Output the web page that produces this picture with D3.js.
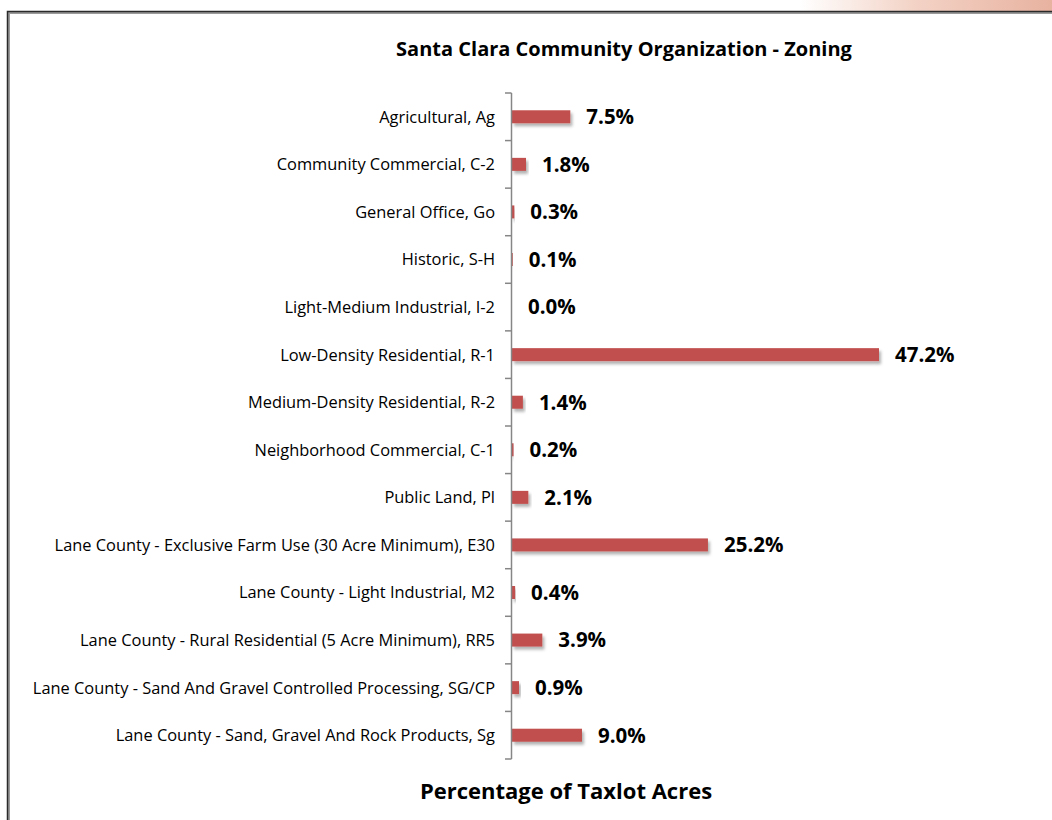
<!DOCTYPE html>
<html>
<head>
<meta charset="utf-8">
<script src="https://cdn.jsdelivr.net/npm/d3@7"></script>
<style>
  body { margin: 0; background: #fff; }
  svg { display: block; font-family: "Open Sans", Lato, sans-serif; }
</style>
</head>
<body>
<script>
// zoning categories and share of taxlot acres (%)
var categories = [
  "Agricultural, Ag",
  "Community Commercial, C-2",
  "General Office, Go",
  "Historic, S-H",
  "Light-Medium Industrial, I-2",
  "Low-Density Residential, R-1",
  "Medium-Density Residential, R-2",
  "Neighborhood Commercial, C-1",
  "Public Land, Pl",
  "Lane County - Exclusive Farm Use (30 Acre Minimum), E30",
  "Lane County - Light Industrial, M2",
  "Lane County - Rural Residential (5 Acre Minimum), RR5",
  "Lane County - Sand And Gravel Controlled Processing, SG/CP",
  "Lane County - Sand, Gravel And Rock Products, Sg"
];
var percents = [7.5, 1.8, 0.3, 0.1, 0.0, 47.2, 1.4, 0.2, 2.1, 25.2, 0.4, 3.9, 0.9, 9.0];

var data = categories.map(function(c, i) { return {cat: c, val: percents[i]}; });

var W = 1052, H = 820;
var margin = {top: 93, left: 512};
var plotH = 666;

var svg = d3.select("body").append("svg")
    .attr("width", W)
    .attr("height", H);

var defs = svg.append("defs");
var grad = defs.append("linearGradient").attr("id", "strip")
    .attr("x1", "0").attr("x2", "1").attr("y1", "0").attr("y2", "0");
grad.append("stop").attr("offset", "0").attr("stop-color", "#ffffff");
grad.append("stop").attr("offset", "0.45").attr("stop-color", "#f3d3c6");
grad.append("stop").attr("offset", "1").attr("stop-color", "#e8b2a0");

var shadow = defs.append("filter").attr("id", "shadow")
    .attr("x", "-10%").attr("y", "-50%").attr("width", "130%").attr("height", "250%");
shadow.append("feDropShadow")
    .attr("dx", 2).attr("dy", 3).attr("stdDeviation", 1.8)
    .attr("flood-color", "#000").attr("flood-opacity", 0.3);

// peach strip along top right and frame
svg.append("rect").attr("x", 800).attr("y", 0).attr("width", W - 800).attr("height", 11)
    .attr("fill", "url(#strip)");
svg.append("path").attr("d", "M8.5," + H + "V12.5H" + W)
    .attr("fill", "none").attr("stroke", "#9a9a9a").attr("stroke-width", 3);
svg.append("path").attr("d", "M7.5," + H + "V11.5H" + W)
    .attr("fill", "none").attr("stroke", "#2a2a2a").attr("stroke-width", 1.5);

var g = svg.append("g")
    .attr("transform", "translate(" + margin.left + "," + margin.top + ")");

var x = d3.scaleLinear()
    .domain([0, 47.2])
    .range([0, 367]);
var y = d3.scaleBand()
    .domain(categories)
    .range([0, plotH]);

var barH = 13;

g.selectAll(".bar")
    .data(data)
  .enter().append("rect")
    .attr("class", "bar")
    .attr("x", 0)
    .attr("y", function(d) { return y(d.cat) + y.bandwidth() / 2 - barH / 2; })
    .attr("width", function(d) { return x(d.val); })
    .attr("height", barH)
    .attr("fill", "#c0504d")
    .attr("filter", "url(#shadow)");

g.selectAll(".lbl")
    .data(data)
  .enter().append("text")
    .attr("class", "lbl")
    .attr("x", function(d) { return x(d.val) + 16; })
    .attr("y", function(d) { return y(d.cat) + y.bandwidth() / 2; })
    .attr("dy", "0.36em")
    .attr("font-size", 20.5)
    .attr("font-weight", "bold")
    .attr("fill", "#000")
    .text(function(d) { return d.val.toFixed(1) + "%"; });

// category axis with ticks on band boundaries
var axis = g.append("g").attr("class", "axis");
axis.append("line")
    .attr("x1", -0.5).attr("x2", -0.5)
    .attr("y1", 0).attr("y2", plotH)
    .attr("stroke", "#868686").attr("stroke-width", 1.5);
axis.selectAll(".tick")
    .data(d3.range(categories.length + 1))
  .enter().append("line")
    .attr("x1", -7).attr("x2", -0.5)
    .attr("y1", function(i) { return i * y.step(); })
    .attr("y2", function(i) { return i * y.step(); })
    .attr("stroke", "#868686").attr("stroke-width", 1.5);
axis.selectAll(".cat")
    .data(categories)
  .enter().append("text")
    .attr("x", -17)
    .attr("y", function(d) { return y(d) + y.bandwidth() / 2; })
    .attr("dy", "0.36em")
    .attr("text-anchor", "end")
    .attr("font-size", 16.4)
    .attr("fill", "#000")
    .text(function(d) { return d; });

svg.append("text")
    .attr("x", 624).attr("y", 56)
    .attr("text-anchor", "middle")
    .attr("font-size", 20)
    .attr("font-weight", "bold")
    .text("Santa Clara Community Organization - Zoning");

svg.append("text")
    .attr("x", 566).attr("y", 799)
    .attr("text-anchor", "middle")
    .attr("font-size", 22)
    .attr("font-weight", "bold")
    .text("Percentage of Taxlot Acres");
</script>
</body>
</html>
